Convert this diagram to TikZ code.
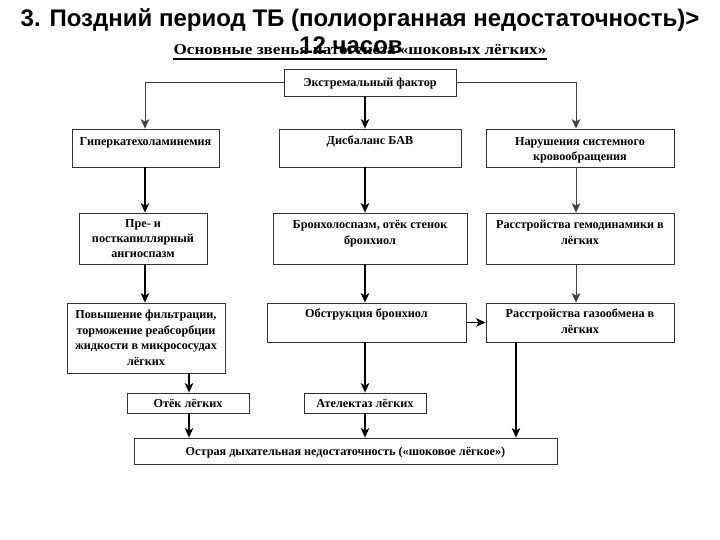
\documentclass[tikz,border=0pt]{standalone}
\usepackage{fontspec}
\setmainfont{Liberation Serif}
\newfontfamily\titlefont{Liberation Sans}
\usetikzlibrary{arrows.meta}
% name, x1, y1, x2, y2, centre of last text line, text
\newcommand{\bxx}[7]{%
  \node[box, minimum width={#4-#2}, minimum height={#5-#3}] (#1) at ({(#2+#4)/2},{(#3+#5)/2}) {};
  \node[boxtxt, anchor=base] (#1t) at ({(#2+#4)/2},{#6+4}) {#7};}
\begin{document}
\begin{tikzpicture}[x=1pt,y=-1pt,
  box/.style={draw=black!80, line width=0.8pt, inner sep=0pt, fill=white},
  boxtxt/.style={font=\bfseries\fontsize{12.2}{15.5}\selectfont, align=center, inner sep=0pt},
  titletxt/.style={font=\titlefont\bfseries\fontsize{24}{26}\selectfont, anchor=base, inner sep=0pt},
  arr/.style={-{Stealth[length=9.5pt,width=8.5pt,inset=2.5pt]}, line width=1.1pt, draw=black},
  thinarr/.style={arr, line width=0.7pt, draw=black!75},
  thickarr/.style={arr, line width=1.5pt}]
\useasboundingbox (0,0) rectangle (720,540);
% titles
\node[font=\bfseries\fontsize{15}{17}\selectfont, anchor=base, inner sep=0pt] (sub0) at (360,55)
  {\scalebox{1.14}[1]{Основные звенья патогенеза «шоковых лёгких»}};
\draw[line width=1.6pt] ([yshift=-4pt]sub0.base west) -- ([yshift=-4pt]sub0.base east);
\node[titletxt] (title1) at (360,27) {3. Поздний период ТБ (полиорганная недостаточность)>};
\node[titletxt] (title2) at (351,54) {12 часов};
% boxes
\bxx{tb}{284}{69}{456}{96}{83}{Экстремальный фактор}
\bxx{b1}{72}{129}{219}{167}{141.5}{Гиперкатехоламинемия}
\bxx{b2}{279}{129}{461}{167}{141}{Дисбаланс БАВ}
\bxx{b3}{486}{129}{674}{167}{157}{Нарушения системного\\кровообращения}
\bxx{b4}{79}{213}{207}{264}{254}{Пре- и\\посткапиллярный\\ангиоспазм}
\bxx{b5}{273}{213}{467}{264}{240}{Бронхолоспазм, отёк стенок\\бронхиол}
\bxx{b6}{486}{213}{674}{264}{240}{Расстройства гемодинамики в\\лёгких}
\bxx{b7}{67}{303}{225}{373}{361}{Повышение фильтрации,\\торможение реабсорбции\\жидкости в микрососудах\\лёгких}
\bxx{b8}{267}{303}{466}{342}{313}{Обструкция бронхиол}
\bxx{b9}{486}{303}{674}{342}{329}{Расстройства газообмена в\\лёгких}
\bxx{b10}{127}{393}{249}{413}{403}{Отёк лёгких}
\bxx{b11}{304}{393}{426}{413}{403}{Ателектаз лёгких}
\bxx{b12}{134}{438}{557}{464}{451}{Острая дыхательная недостаточность («шоковое лёгкое»)}
% column coordinates
\coordinate (lx) at (145,0);
\coordinate (lx2) at (189,0);
\coordinate (mx) at (365,0);
\coordinate (rx) at (576,0);
\coordinate (rx2) at (516,0);
% connectors
\draw[thinarr] (tb.west) -| (b1.north -| lx);
\draw[thinarr] (tb.east) -| (b3.north -| rx);
\draw[arr] (tb.south -| mx) -- (b2.north -| mx);
\draw[arr] (b1.south -| lx) -- (b4.north -| lx);
\draw[thickarr] (b2.south -| mx) -- (b5.north -| mx);
\draw[thinarr] (b3.south -| rx) -- (b6.north -| rx);
\draw[arr] (b4.south -| lx) -- (b7.north -| lx);
\draw[thickarr] (b5.south -| mx) -- (b8.north -| mx);
\draw[thinarr] (b6.south -| rx) -- (b9.north -| rx);
\draw[thickarr] (b8.east) -- (b9.west);
\draw[thickarr] (b7.south -| lx2) -- (b10.north -| lx2);
\draw[thickarr] (b8.south -| mx) -- (b11.north -| mx);
\draw[arr] (b9.south -| rx2) -- (b12.north -| rx2);
\draw[thickarr] (b10.south -| lx2) -- (b12.north -| lx2);
\draw[thickarr] (b11.south -| mx) -- (b12.north -| mx);
\end{tikzpicture}
\end{document}
